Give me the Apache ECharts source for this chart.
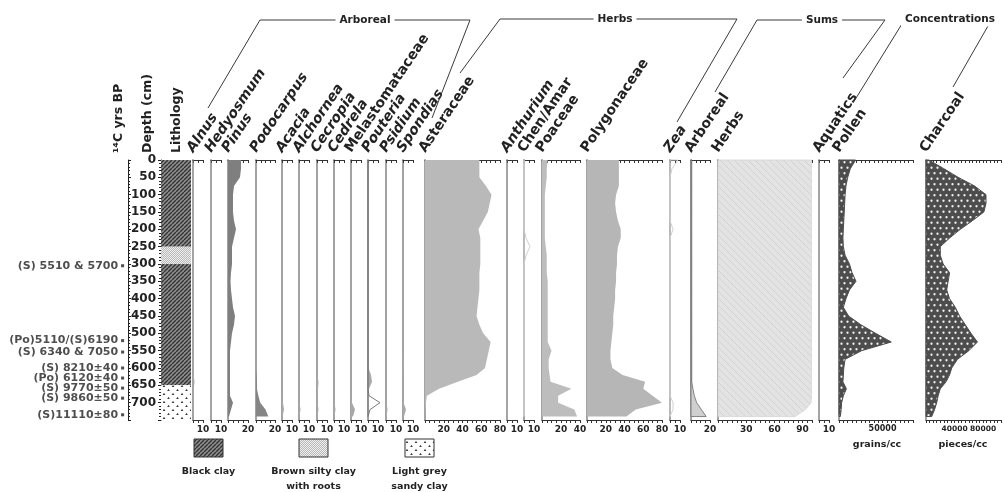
<!DOCTYPE html>
<html>
<head>
<meta charset="utf-8">
<script src="https://cdn.jsdelivr.net/npm/echarts@6.0.0/dist/echarts.min.js"></script>
<style>
  html, body { margin: 0; padding: 0; background: #fff; }
  #chart { width: 1004px; height: 492px; }
</style>
</head>
<body>
<div id="chart"></div>
<script>
// sample depths (cm) shared by every curve
const DEPTHS = [0, 25, 50, 75, 100, 125, 150, 175, 200, 225, 250, 275, 300, 325, 350, 375, 400, 425, 450, 475, 500, 525, 550, 575, 600, 620, 640, 660, 680, 700, 720, 740]

// percentages
const ALNUS = [0.4, 0.4, 0.4, 0.4, 0.4, 0.4, 0.4, 0.4, 0.4, 0.4, 0.4, 0.4, 0.4, 0.4, 0.4, 0.4, 0.4, 0.4, 0.4, 0.4, 0.4, 0.4, 0.4, 0.4, 0.4, 0.6, 1.5, 0.8, 0.4, 0.4, 0.8, 0.3]
const HEDYOSMUM = [0.3, 0.3, 0.3, 0.3, 0.3, 0.3, 0.3, 0.3, 0.3, 0.3, 0.3, 0.3, 0.3, 0.3, 0.3, 0.3, 0.3, 0.3, 0.3, 0.3, 0.3, 0.3, 0.3, 0.3, 0.3, 0.3, 0.3, 0.3, 0.3, 0.3, 0.5, 0.3]
const PINUS = [13, 13, 12, 6, 5, 5, 5, 6, 8, 6, 4, 4, 4, 3, 2.5, 3, 4, 5, 7, 6, 4, 3, 2, 2, 2, 2, 2, 2, 2, 5, 3, 1]
const PODOCARPUS = [0, 0, 0, 0, 0, 0, 0, 0, 0, 0, 0, 0, 0, 0, 0, 0, 0, 0, 0, 0, 0, 0, 0, 0, 0, 0.5, 1, 1, 2.5, 4.5, 10, 13]
const ACACIA = [0, 0, 0, 0, 0, 0, 0, 0, 0, 0, 0, 0, 0, 0, 0, 0, 0, 0, 0, 0, 0, 0, 0, 0, 0, 0, 0, 0, 0, 1, 2, 0.5]
const ALCHORNEA = [0, 0, 0, 0, 0, 0, 0, 0, 0, 0, 0, 0, 0, 0, 0, 0, 0, 0, 0, 0, 0, 0, 0, 0, 0, 0, 0, 0, 0, 0.5, 1.5, 0.5]
const CECROPIA = [0, 0, 0, 0, 0, 0, 0, 0, 0, 0, 0, 0, 0, 0, 0, 0, 0, 0, 0, 0, 0, 0, 0, 0, 0, 0, 1.5, 1, 0.3, 0.5, 1.5, 0.5]
const CEDRELA = [0, 0, 0, 0, 0, 0, 0, 0, 0, 0, 0, 0, 0, 0, 0, 0, 0, 0, 0, 0, 0, 0, 0, 0, 0, 0, 0, 0, 0, 0.5, 1.5, 0.5]
const MELASTOMATACEAE = [0, 0, 0, 0, 0, 0, 0, 0, 0, 0, 0, 0, 0, 0, 0, 0, 0, 0, 0, 0, 0, 0, 0, 0, 0, 0, 0, 0, 0, 1, 4, 2]
const POUTERIA = [0, 0, 0, 0, 0, 0, 0, 0, 0, 0, 0, 0, 0, 0, 0, 0, 0, 0, 0, 0, 0, 0, 0, 0, 0.5, 3, 4, 1, 0.5, 1, 0.5, 0]
const POUTERIA_X10 = [0, 0, 0, 0, 0, 0, 0, 0, 0, 0, 0, 0, 0, 0, 0, 0, 0, 0, 0, 0, 0, 0, 0, 0, 0, 0, 0, 0, 1, 12, 2, 0]
const PSIDIUM = [0, 0, 0, 0, 0, 0, 0, 0, 0, 0, 0, 0, 0, 0, 0, 0, 0, 0, 0, 0, 0, 0, 0, 0, 0, 0, 0, 0, 0, 0.5, 1.5, 0.5]
const SPONDIAS = [0, 0, 0, 0, 0, 0, 0, 0, 0, 0, 0, 0, 0, 0, 0, 0, 0, 0, 0, 0, 0, 0, 0, 1, 0.5, 0, 0, 0, 0, 0.5, 3, 1]
const ASTERACEAE = [58, 58, 58, 65, 71, 69, 67, 62, 57, 59, 59, 59, 59, 58, 58, 58, 57, 56, 55, 58, 62, 70, 68, 66, 64, 55, 35, 15, 2, 1, 0.5, 0]
const ANTHURIUM = [0.3, 0.3, 0.3, 0.3, 0.3, 0.3, 0.3, 0.3, 0.3, 0.3, 0.3, 0.3, 0.3, 0.3, 0.3, 0.3, 0.3, 0.3, 0.3, 0.3, 0.3, 0.3, 0.3, 0.3, 0.3, 0.3, 0.3, 0.3, 0.3, 0.5, 1, 0.3]
const CHEN_AMAR = [0.3, 0.3, 0.3, 0.3, 0.3, 0.3, 0.3, 0.3, 0.3, 0.3, 0.3, 0.3, 0.3, 0.3, 0.3, 0.3, 0.3, 0.3, 0.3, 0.3, 0.3, 0.3, 0.3, 0.3, 0.3, 0.3, 0.3, 0.3, 0.3, 0.3, 0.3, 0.3]
const CHEN_AMAR_X10 = [0, 0, 0, 0, 0, 0, 0, 0, 0, 2, 6, 2, 0, 0, 0, 0, 0, 0, 0, 0, 0, 0, 0, 0, 0, 0, 0, 0, 0, 0, 0, 0]
const POACEAE = [6, 5, 5, 4, 3, 3, 3, 3, 3, 3, 4, 5, 5, 5, 6, 6, 6, 6, 6, 6, 6, 6, 10, 7, 7, 8, 9, 31, 17, 17, 34, 37]
const POLYGONACEAE = [34, 34, 34, 34, 31, 30, 31, 33, 36, 36, 33, 32, 32, 31, 31, 30, 30, 29, 28, 28, 27, 26, 25, 25, 27, 38, 62, 60, 70, 80, 52, 42]
const ZEA = [0.3, 0.3, 0.3, 0.3, 0.3, 0.3, 0.3, 0.3, 0.3, 0.3, 0.3, 0.3, 0.3, 0.3, 0.3, 0.3, 0.3, 0.3, 0.3, 0.3, 0.3, 0.3, 0.3, 0.3, 0.3, 0.3, 0.3, 0.3, 0.3, 0.3, 0.3, 0.3]
const ZEA_X10 = [8, 2, 0, 0, 0, 0, 0, 0, 3, 0, 0, 0, 0, 0, 0, 0, 0, 0, 0, 0, 0, 0, 0, 0, 0, 0, 0, 0, 0, 3, 3, 0]
const SUM_ARBOREAL = [0.8, 0.8, 0.8, 0.8, 0.8, 0.8, 0.8, 0.8, 0.8, 0.8, 0.8, 0.8, 0.8, 0.8, 0.8, 0.8, 0.8, 0.8, 0.8, 0.8, 0.8, 0.8, 0.8, 0.8, 0.8, 0.8, 0.8, 2, 3.5, 6, 11, 16]
const SUM_HERBS = [99.5, 99.5, 99.5, 99.5, 99.5, 99.5, 99.5, 99.5, 99.5, 99.5, 99.5, 99.5, 99.5, 99.5, 99.5, 99.5, 99.5, 99.5, 99.5, 99.5, 99.5, 99.5, 99.5, 99.5, 99.5, 99.5, 99.5, 99.5, 99.5, 99, 93, 82]
const AQUATICS = [0.3, 0.3, 0.3, 0.3, 0.3, 0.3, 0.3, 0.3, 0.3, 0.3, 0.3, 0.3, 0.3, 0.3, 0.3, 0.3, 0.3, 0.3, 0.3, 0.3, 0.3, 0.3, 0.3, 0.3, 0.3, 0.3, 0.3, 0.3, 0.3, 0.3, 0.3, 0.3]

// concentrations
const POLLEN = [19000, 13000, 10000, 8000, 7000, 6500, 6000, 5500, 5000, 4500, 5000, 7000, 12000, 15000, 19500, 12000, 8000, 5000, 11000, 25000, 42000, 60000, 26000, 7000, 5500, 5000, 4500, 8500, 5000, 3000, 2500, 1500]
const CHARCOAL = [4000, 25000, 45000, 68000, 84000, 84000, 81000, 65000, 48000, 33000, 20000, 20000, 24000, 33000, 31000, 29000, 33000, 41000, 47000, 55000, 63000, 72000, 60000, 44000, 36000, 33000, 28000, 20000, 17000, 15000, 12000, 8000]

const TAXA = ['Alnus', 'Hedyosmum', 'Pinus', 'Podocarpus', 'Acacia', 'Alchornea', 'Cecropia', 'Cedrela',
  'Melastomataceae', 'Pouteria', 'Psidium', 'Spondias', 'Asteraceae', 'Anthurium', 'Chen/Amar', 'Poaceae',
  'Polygonaceae', 'Zea', 'Arboreal', 'Herbs', 'Aquatics', 'Pollen', 'Charcoal']
const VALUES = [ALNUS, HEDYOSMUM, PINUS, PODOCARPUS, ACACIA, ALCHORNEA, CECROPIA, CEDRELA,
  MELASTOMATACEAE, POUTERIA, PSIDIUM, SPONDIAS, ASTERACEAE, ANTHURIUM, CHEN_AMAR, POACEAE,
  POLYGONACEAE, ZEA, SUM_ARBOREAL, SUM_HERBS, AQUATICS, POLLEN, CHARCOAL]
const ITALIC = ['Alnus', 'Hedyosmum', 'Pinus', 'Podocarpus', 'Acacia', 'Alchornea', 'Cecropia', 'Cedrela',
  'Pouteria', 'Psidium', 'Spondias', 'Anthurium', 'Zea']

// axis ticks and labels per panel
const PANEL_MAX = [10, 10, 20, 20, 10, 10, 10, 10, 10, 10, 10, 10, 80, 10, 10, 40, 80, 10, 20, 100, 10, 85000, 105000]
const PANEL_TICK = [5, 5, 5, 5, 5, 5, 5, 5, 5, 5, 5, 5, 5, 5, 5, 5, 5, 5, 5, 5, 5, 5000, 5000]
const PANEL_LABELS = [[10], [10], [20], [20], [10], [10], [10], [10], [10], [10], [10], [10], [20, 40, 60, 80],
  [10], [10], [20, 40], [20, 40, 60, 80], [10], [20], [30, 60, 90], [10], [50000], [40000, 80000]]

// lithology
const LITHO_TOP = [0, 250, 300, 650]
const LITHO_BASE = [250, 300, 650, 750]
const LITHO_KIND = [0, 1, 0, 2]
const LITHO_NAMES = ['Black clay', 'Brown silty clay\nwith roots', 'Light grey\nsandy clay']

// radiocarbon dates
const DATE_LABELS = ['(S) 5510 & 5700', '(Po)5110/(S)6190', '(S) 6340 & 7050', '(S) 8210±40', '(Po) 6120±40',
  '(S) 9770±50', '(S) 9860±50', '(S)11110±80']
const DATE_DEPTHS = [305, 521, 554, 600, 629, 658, 687, 735]

// ---- layout ----
const PANEL_X = [193, 211, 228, 256, 282, 299, 317, 334, 351, 368, 386, 403, 425, 507, 524, 542, 587, 670, 691, 718, 819, 839, 926]
const PANEL_W = [10, 10, 20, 19, 10, 10, 10, 10, 10, 10, 10, 10, 75, 10, 10, 38, 75, 10, 19, 94, 10, 74, 76]
const TOP = 160
const HEIGHT = 260
const FONT = 'DejaVu Sans'
const INK = '#222'

function pattern(w, h, draw) {
  const c = document.createElement('canvas')
  c.width = w
  c.height = h
  draw(c.getContext('2d'), w, h)
  return { image: c, repeat: 'repeat' }
}

function diag(ctx, w, h, dir) {
  ctx.beginPath()
  for (const o of [-w, 0, w]) {
    if (dir > 0) { ctx.moveTo(o, h); ctx.lineTo(o + w, 0) } else { ctx.moveTo(o, 0); ctx.lineTo(o + w, h) }
  }
  ctx.stroke()
}

const HATCH = pattern(4, 4, (ctx, w, h) => {
  ctx.fillStyle = '#909090'; ctx.fillRect(0, 0, w, h)
  ctx.strokeStyle = '#333'; ctx.lineWidth = 1.4; diag(ctx, w, h, 1)
})
const SILT = pattern(2, 2, (ctx) => {
  ctx.fillStyle = '#b8b8b8'; ctx.fillRect(0, 0, 2, 2)
  ctx.fillStyle = '#efefef'; ctx.fillRect(0, 0, 1, 1); ctx.fillRect(1, 1, 1, 1)
})
const SAND = pattern(9, 8, (ctx) => {
  ctx.fillStyle = '#fff'; ctx.fillRect(0, 0, 9, 8)
  ctx.fillStyle = '#3a3a3a'
  for (const [x, y] of [[2, 2], [6.5, 6]]) {
    ctx.beginPath(); ctx.moveTo(x - 1.3, y + 1); ctx.lineTo(x + 1.3, y + 1); ctx.lineTo(x, y - 1.2); ctx.fill()
  }
})
const DOTS = pattern(6, 11, (ctx) => {
  ctx.fillStyle = '#4d4d4d'; ctx.fillRect(0, 0, 6, 11)
  ctx.fillStyle = '#f0f0f0'
  for (const [x, y] of [[1.5, 2.75], [4.5, 8.25]]) { ctx.beginPath(); ctx.arc(x, y, 1.15, 0, Math.PI * 2); ctx.fill() }
})
const HERBFILL = pattern(7, 7, (ctx, w, h) => {
  ctx.fillStyle = '#e3e3e3'; ctx.fillRect(0, 0, w, h)
  ctx.strokeStyle = '#d2d2d2'; ctx.lineWidth = 1; diag(ctx, w, h, -1)
})
const LITHO_FILLS = [HATCH, SILT, SAND]

const PANEL_STYLE = {
  Pinus: { fill: '#7f7f7f' }, Podocarpus: { fill: '#858585' },
  Asteraceae: { fill: '#b9b9b9' }, Poaceae: { fill: '#bdbdbd' }, Polygonaceae: { fill: '#b6b6b6' },
  Arboreal: { fill: '#cfcfcf', stroke: '#6a6a6a', lineWidth: 0.8 },
  Herbs: { fill: HERBFILL, stroke: '#d6d6d6', lineWidth: 0.8 },
  Pollen: { fill: DOTS, stroke: '#4d4d4d', lineWidth: 1 }, Charcoal: { fill: DOTS, stroke: '#4d4d4d', lineWidth: 1 },
}
const EXAGGERATION = { Pouteria: [POUTERIA_X10, '#7a7a7a'], 'Chen/Amar': [CHEN_AMAR_X10, '#cfcfcf'], Zea: [ZEA_X10, '#cfcfcf'] }

function curveRenderer(style) {
  return function (params, api) {
    if (params.dataIndexInside !== 0) return
    const n = params.dataInsideLength
    const points = [api.coord([0, api.value(1, 0)])]
    for (let k = 0; k < n; k++) points.push(api.coord([api.value(0, k), api.value(1, k)]))
    points.push(api.coord([0, api.value(1, n - 1)]))
    return { type: 'polygon', shape: { points }, style }
  }
}

const grids = []
const xAxes = []
const yAxes = []
const series = []
const graphic = []

function depthAxis(gridIndex, extra) {
  return Object.assign({
    gridIndex, type: 'value', inverse: true, min: 0, max: 750,
    splitLine: { show: false }, axisLabel: { show: false }, axisTick: { show: false },
  }, extra)
}

const scaleLine = { show: true, onZero: false, lineStyle: { color: INK, width: 1 } }

// radiocarbon column
grids.push({ left: 20, top: TOP, width: 108, height: HEIGHT })
xAxes.push({ gridIndex: 0, type: 'value', min: 0, max: 1, show: false })
yAxes.push(depthAxis(0, {
  position: 'right', interval: 50,
  axisLine: scaleLine,
  axisTick: { show: true, length: 3, lineStyle: { color: INK } },
  minorTick: { show: true, splitNumber: 5, length: 2, lineStyle: { color: INK } },
}))
series.push({
  type: 'scatter', xAxisIndex: 0, yAxisIndex: 0, silent: true,
  data: DATE_DEPTHS.map((d, k) => ({ value: [0.95, d], name: DATE_LABELS[k] })),
  symbol: 'rect', symbolSize: [3, 3], itemStyle: { color: INK },
  label: { show: true, position: 'left', distance: 3, formatter: (p) => p.name, fontFamily: FONT, fontWeight: 'bold', fontSize: 11, color: INK },
})

// lithology column with the depth scale
grids.push({ left: 161, top: TOP, width: 30, height: HEIGHT })
xAxes.push({ gridIndex: 1, type: 'value', min: 0, max: 1, show: false })
yAxes.push(depthAxis(1, {
  position: 'left', interval: 50,
  axisLine: scaleLine,
  axisTick: { show: true, length: 3, lineStyle: { color: INK } },
  minorTick: { show: true, splitNumber: 5, length: 2, lineStyle: { color: INK } },
  axisLabel: { show: true, margin: 5, fontFamily: FONT, fontWeight: 'bold', fontSize: 12, color: INK, formatter: (v) => (v > 700 ? '' : String(v)) },
}))
series.push({
  type: 'custom', xAxisIndex: 1, yAxisIndex: 1, silent: true,
  data: LITHO_TOP.map((t, k) => [t, LITHO_BASE[k], LITHO_KIND[k]]),
  renderItem: (params, api) => {
    const a = api.coord([0, api.value(0)])
    const b = api.coord([1, api.value(1)])
    return { type: 'rect', shape: { x: a[0], y: a[1], width: b[0] - a[0], height: b[1] - a[1] }, style: { fill: LITHO_FILLS[api.value(2)] } }
  },
})

// one grid per pollen curve
TAXA.forEach((name, i) => {
  const g = grids.length
  grids.push({ left: PANEL_X[i], top: TOP, width: PANEL_W[i], height: HEIGHT })
  const big = PANEL_MAX[i] > 1000
  const base = { gridIndex: g, type: 'value', min: 0, max: PANEL_MAX[i], interval: PANEL_TICK[i], splitLine: { show: false } }
  const bottomIndex = xAxes.length
  xAxes.push(Object.assign({}, base, {
    position: 'bottom',
    axisLine: { show: true, onZero: false, lineStyle: { color: '#333', width: 1 } },
    axisTick: { show: true, length: 3, lineStyle: { color: '#333' } },
    axisLabel: {
      show: true, margin: 5, fontFamily: FONT, fontWeight: 'bold', fontSize: big ? (name === 'Charcoal' ? 7.5 : 8) : 9, color: INK,
      formatter: (v) => (PANEL_LABELS[i].includes(v) ? String(v) : ''),
    },
  }))
  xAxes.push(Object.assign({}, base, {
    position: 'top',
    axisLine: { show: true, onZero: false, lineStyle: { color: '#333', width: 1 } },
    axisTick: { show: true, inside: true, length: 3, lineStyle: { color: '#333' } },
    axisLabel: { show: false },
  }))
  const yIndex = yAxes.length
  yAxes.push(depthAxis(g, { axisLine: { show: true, onZero: false, lineStyle: { color: '#a3a3a3', width: 2 } } }))

  const style = PANEL_STYLE[name] || { fill: '#a8a8a8' }
  series.push({
    type: 'custom', xAxisIndex: bottomIndex, yAxisIndex: yIndex, silent: true, clip: false,
    data: DEPTHS.map((d, k) => [VALUES[i][k], d]),
    renderItem: curveRenderer(Object.assign({ stroke: null, lineWidth: 0 }, style)),
  })
  if (EXAGGERATION[name]) {
    const [vals, color] = EXAGGERATION[name]
    series.push({
      type: 'custom', xAxisIndex: bottomIndex, yAxisIndex: yIndex, silent: true, clip: false,
      data: DEPTHS.map((d, k) => [vals[k], d]),
      renderItem: curveRenderer({ fill: null, stroke: color, lineWidth: 1 }),
    })
  }

  graphic.push({
    type: 'text', x: PANEL_X[i] + 3, y: 155, rotation: (56 * Math.PI) / 180, silent: true,
    style: {
      text: name, fontFamily: FONT, fontWeight: 'bold', fontStyle: ITALIC.includes(name) ? 'italic' : 'normal',
      fontSize: 14, fill: INK, align: 'left', verticalAlign: 'bottom',
    },
  })
})

// left column headings
for (const [text, x] of [['¹⁴C yrs BP', 119], ['Depth (cm)', 148], ['Lithology', 177]]) {
  graphic.push({
    type: 'text', x, y: 153, rotation: Math.PI / 2, silent: true,
    style: { text, fontFamily: FONT, fontWeight: 'bold', fontSize: 12.5, fill: INK, align: 'left', verticalAlign: 'middle' },
  })
}

// group brackets
const line = { stroke: '#3a3a3a', lineWidth: 1, fill: null }
const brackets = [
  { points: [[208, 108], [260, 20], [470, 20], [432, 118]], label: 'Arboreal', at: [365, 20] },
  { points: [[460, 73], [500, 19], [737, 19], [677, 122]], label: 'Herbs', at: [615, 19] },
  { points: [[715, 92], [757, 20], [885, 20], [843, 78]], label: 'Sums', at: [822, 20] },
  { points: [[853, 103], [905, 19], [992, 19], [953, 87]], label: 'Concentrations', at: [950, 19] },
]
for (const b of brackets) {
  graphic.push({ type: 'polyline', silent: true, z: 10, shape: { points: b.points }, style: line })
  graphic.push({
    type: 'text', x: b.at[0], y: b.at[1], silent: true, z: 11,
    style: { text: b.label, fontFamily: FONT, fontWeight: 'bold', fontSize: 10.5, fill: INK, align: 'center', verticalAlign: 'middle', backgroundColor: '#fff', padding: [2, 4] },
  })
}

// lithology key
const KEY_X = [194, 299, 405]
LITHO_NAMES.forEach((text, k) => {
  graphic.push({ type: 'rect', silent: true, shape: { x: KEY_X[k], y: 439, width: 29, height: 18 }, style: { fill: LITHO_FILLS[k], stroke: '#333', lineWidth: 1 } })
  graphic.push({
    type: 'text', x: KEY_X[k] + 14.5, y: 464, silent: true,
    style: { text, fontFamily: FONT, fontWeight: 'bold', fontSize: 9.5, lineHeight: 15, fill: INK, align: 'center', verticalAlign: 'top' },
  })
})
for (const [text, x] of [['grains/cc', 877], ['pieces/cc', 963]]) {
  graphic.push({ type: 'text', x, y: 445, silent: true, style: { text, fontFamily: FONT, fontWeight: 'bold', fontSize: 9.5, fill: INK, align: 'center', verticalAlign: 'middle' } })
}

const chart = echarts.init(document.getElementById('chart'))
chart.setOption({
  animation: false,
  backgroundColor: '#fff',
  grid: grids,
  xAxis: xAxes,
  yAxis: yAxes,
  series,
  graphic,
})
window.addEventListener('resize', () => chart.resize())
</script>
</body>
</html>
